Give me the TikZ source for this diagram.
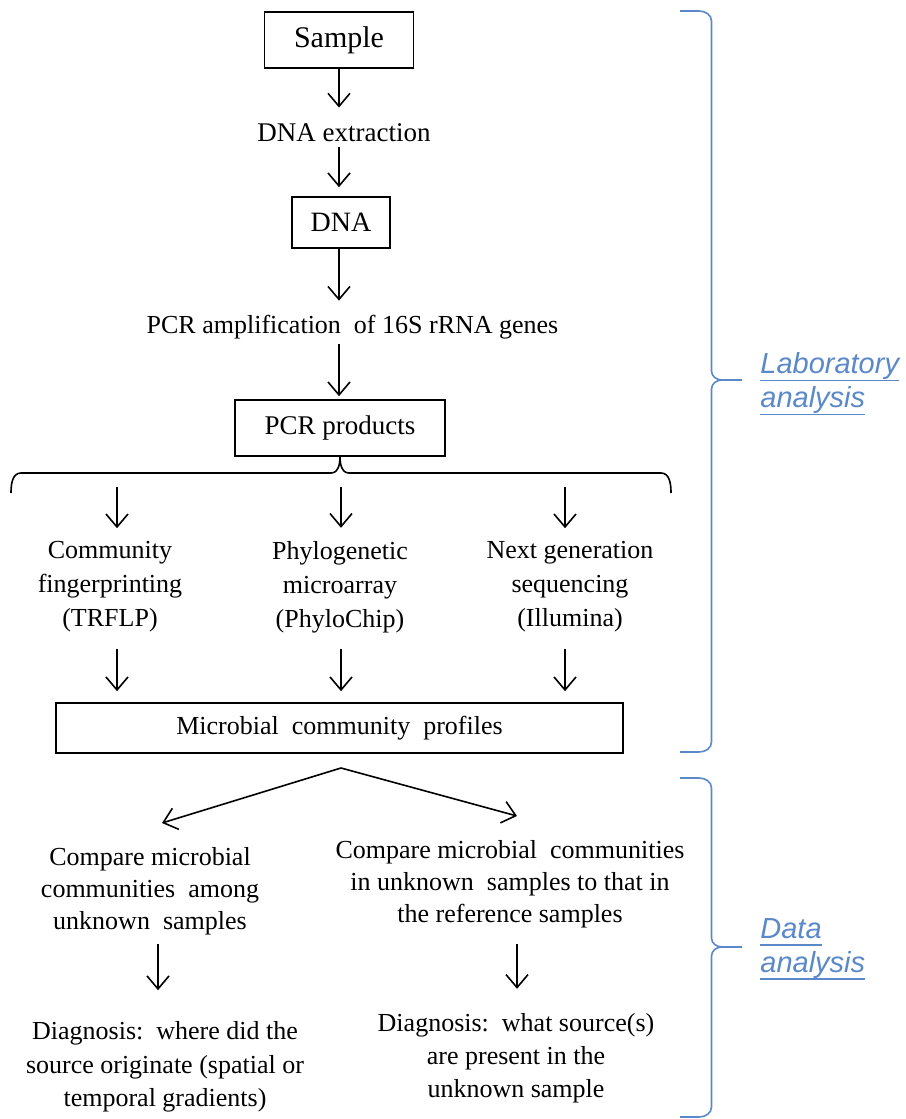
\documentclass[tikz,border=0pt]{standalone}
\usepackage{fontspec}
\setmainfont{Liberation Serif}
\newfontfamily\labfont{Liberation Sans}
\usetikzlibrary{arrows.meta}
\definecolor{braceblue}{HTML}{5A88C8}
\newcommand{\myul}[1]{\setbox0\hbox{#1}\rlap{\rule[-3.6pt]{\wd0}{0.6pt}}\box0}
\begin{document}
\begin{tikzpicture}[x=0.5pt,y=-0.5pt,
  box/.style={draw, line width=0.8pt, inner sep=0pt},
  txt/.style={inner sep=0pt, align=center, font=\fontsize{13}{17}\selectfont},
  arr/.style={line width=0.8pt, -{Straight Barb[length=6.5pt,width=11pt,line width=0.8pt]}},
  brc/.style={draw=braceblue, line width=0.8pt},
  lab/.style={anchor=west, align=left, text=braceblue, inner sep=0pt,
    font=\labfont\itshape\fontsize{14.5}{17}\selectfont}]
\useasboundingbox (0,0) rectangle (905,1119);

% ---- top chain ----
\node[box, minimum width=74.5pt, minimum height=28pt, font=\fontsize{15}{18}\selectfont] (sample) at (339,40) {Sample};
\node[txt, font=\fontsize{13.5}{16}\selectfont] (dnaext) at (344,133) {DNA extraction};
\node[box, minimum width=49pt, minimum height=25.5pt, font=\fontsize{14}{17}\selectfont] (dna) at (341,222.5) {DNA};
\node[txt] (pcramp) at (352.5,327) {PCR amplification\ \ of 16S rRNA genes};
\node[box, minimum width=105pt, minimum height=28pt, font=\fontsize{13.5}{16}\selectfont] (pcrprod) at (340,428) {PCR products};

\draw[arr, shorten >=8pt] (sample.south -| 339,0) -- (339,0 |- dnaext.north);
\draw[arr, shorten <=2.5pt, shorten >=4.5pt] (339,0 |- dnaext.south) -- (339,0 |- dna.north);
\draw[arr, shorten >=7pt] (339,0 |- dna.south) -- (339,0 |- pcramp.north);
\draw[arr, shorten <=2.5pt, shorten >=1.5pt] (339,0 |- pcramp.south) -- (339,0 |- pcrprod.north);

% ---- branching brace ----
\coordinate (cusp) at (pcrprod.south);
\draw[line width=0.8pt] (11,493) to[out=90,in=180] (21,473) -- (331,473)
  to[out=0,in=-90] (cusp) to[out=-90,in=180] (349,473) -- (661,473)
  to[out=0,in=90] (671,493);
\coordinate (bA) at (117,487);
\coordinate (bB) at (341,487);
\coordinate (bC) at (565,487);

\node[txt] (comm) at (110,587) {Community\\fingerprinting\\(TRFLP)};
\node[txt] (phylo) at (340,587) {Phylogenetic\\microarray\\(PhyloChip)};
\node[txt] (ngs) at (570,587) {Next generation\\sequencing\\(Illumina)};

\draw[arr, shorten >=6.5pt] (bA) -- (bA |- comm.north);
\draw[arr, shorten >=6.5pt] (bB) -- (bB |- phylo.north);
\draw[arr, shorten >=6.5pt] (bC) -- (bC |- ngs.north);

\node[box, minimum width=283.5pt, minimum height=25pt, font=\fontsize{13}{16}\selectfont] (prof) at (339.5,728) {Microbial\ \ community\ \ profiles};

\draw[arr, shorten <=8pt, shorten >=5.5pt] (bA |- comm.south) -- (bA |- prof.north);
\draw[arr, shorten <=8pt, shorten >=5.5pt] (bB |- phylo.south) -- (bB |- prof.north);
\draw[arr, shorten <=8pt, shorten >=5.5pt] (bC |- ngs.south) -- (bC |- prof.north);

% ---- data analysis ----
\coordinate (apex) at (341,768);
\coordinate (tipL) at (162,823);
\coordinate (tipR) at (517,816);
\draw[arr] (apex) -- (tipL);
\draw[arr] (apex) -- (tipR);

\node[txt, font=\fontsize{13}{16}\selectfont] (cmpL) at (150,891) {Compare microbial\\communities\ \ among\\unknown\ \ samples};
\node[txt, font=\fontsize{13}{16}\selectfont] (cmpR) at (510,884) {Compare microbial\ \ communities\\in unknown\ \ samples to that in\\the reference samples};

\node[txt, font=\fontsize{13}{16.8}\selectfont] (diagL) at (165,1067) {Diagnosis:\ \ where did the\\source originate (spatial or\\temporal gradients)};
\node[txt, font=\fontsize{13}{16.5}\selectfont] (diagR) at (516,1058) {Diagnosis:\ \ what source(s)\\are present in the\\unknown sample};

\draw[arr, shorten <=4.5pt, shorten >=15.5pt] ([xshift=4pt]cmpL.south) -- ([xshift=4pt]cmpL.south |- diagL.north);
\draw[arr, shorten <=8pt, shorten >=12pt] ([xshift=3.5pt]cmpR.south) -- ([xshift=3.5pt]cmpR.south |- diagR.north);

% ---- right braces ----
\draw[brc] (680,11) -- (699,11) to[out=0,in=90] (711.5,21) -- (711.5,371)
  to[out=-90,in=180] (722,380) -- (742,380) -- (722,380)
  to[out=180,in=90] (711.5,389) -- (711.5,742) to[out=-90,in=0] (699,752) -- (680,752);
\draw[brc] (680,778) -- (699,778) to[out=0,in=90] (711.5,788) -- (711.5,938)
  to[out=-90,in=180] (722,947) -- (742,947) -- (722,947)
  to[out=180,in=90] (711.5,956) -- (711.5,1107) to[out=-90,in=0] (699,1117) -- (680,1117);

\node[lab] (lablab) at (760,384) {\myul{Laboratory}\\\myul{analysis}};
\node[lab] (labdata) at (760,949) {\myul{Data}\\\myul{analysis}};
\end{tikzpicture}
\end{document}
